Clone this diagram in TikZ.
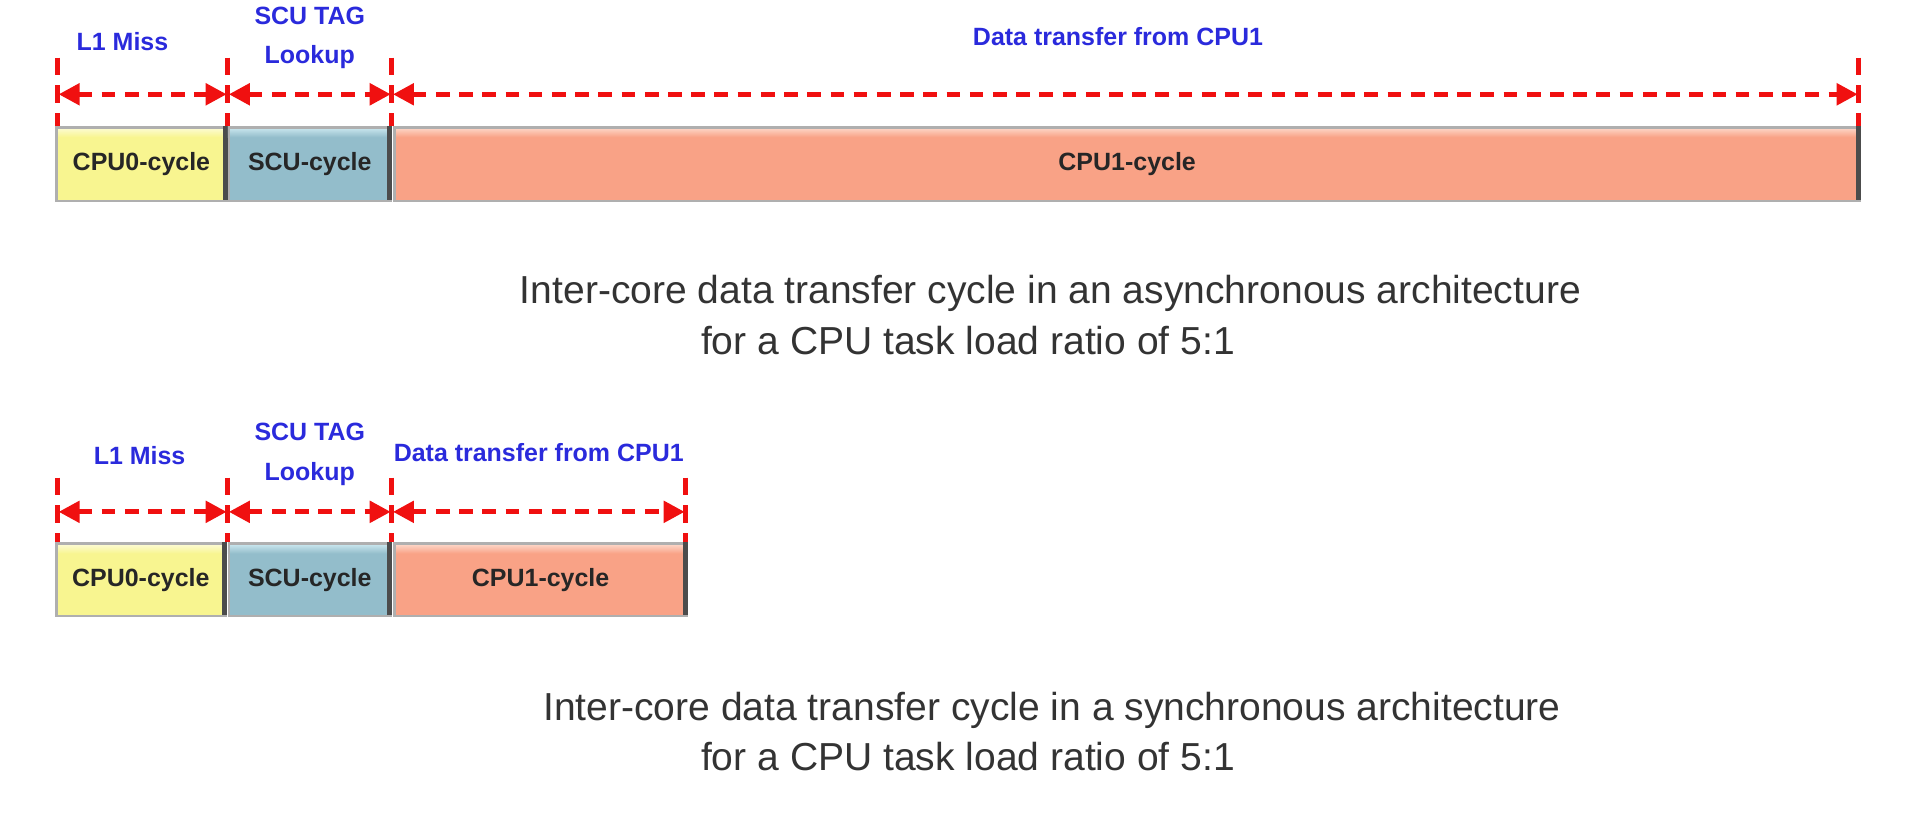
\documentclass[tikz,border=0pt]{standalone}
\usepackage{fontspec}
\setmainfont{Liberation Sans}
\usetikzlibrary{arrows.meta}
\definecolor{cyel}{HTML}{F8F590}
\definecolor{cyelT}{HTML}{FDFCE0}
\definecolor{cscu}{HTML}{93BDCB}
\definecolor{cscuT}{HTML}{D4EEF4}
\definecolor{ccpu}{HTML}{F9A286}
\definecolor{ccpuT}{HTML}{FDE0D4}
\definecolor{cedge}{HTML}{8C8C8C}
\definecolor{lblue}{HTML}{2A2ADC}
\definecolor{dred}{HTML}{F01010}
\tikzset{
  cyclebox/.style={draw=cedge!70, line width=0.7pt, inner sep=0pt, font=\fontsize{7.1pt}{8.5pt}\selectfont\bfseries, text=black!85},
  toplabel/.style={font=\fontsize{7.1pt}{11.3pt}\selectfont\bfseries, text=lblue, align=center, inner sep=0pt},
  vline/.style={dred, line width=1.35pt, dash pattern=on 4.9pt off 3pt},
  span/.style={dred, line width=1.45pt, dash pattern=on 3.9pt off 2.7pt, {Triangle[length=6pt,width=6pt]}-{Triangle[length=6pt,width=6pt]}, shorten <=0.3pt, shorten >=0.3pt},
  caption/.style={font=\fontsize{11.1pt}{13pt}\selectfont, text=black!80, inner sep=0pt, anchor=west},
}
\newcommand{\cyclebar}[6]{% name, x1, x2, ytop, ybot, colour
  \fill[#6] (#2,#4) rectangle (#3,#5);
  \shade[top color=#6T, bottom color=#6] (#2,#4) rectangle (#3,#4+9);
  \node[cyclebox, minimum width={(#3-#2)*0.012245cm}, minimum height={(#5-#4)*0.012245cm}, anchor=north west] (#1) at (#2,#4) {};
  \draw[black!70, line width=1.4pt] (#3,#4) -- (#3,#5);
}
\begin{document}
\begin{tikzpicture}[x=0.012245cm,y=-0.012245cm]
\useasboundingbox (0,0) rectangle (1568,665.6);
% ---------- top diagram ----------
\cyclebar{ay}{45}{184}{103}{163}{cyel}
\cyclebar{as}{186}{318}{103}{163}{cscu}
\cyclebar{ac}{321}{1518}{103}{163}{ccpu}
\node[cyclebox,draw=none] at (ay.center) {CPU0-cycle};
\node[cyclebox,draw=none] at (as.center) {SCU-cycle};
\node[cyclebox,draw=none] at (ac.center) {CPU1-cycle};
\coordinate (at0) at (47,47);  \coordinate (ab0) at (47,103);
\coordinate (at1) at (186,47); \coordinate (ab1) at (186,103);
\coordinate (at2) at (320,47); \coordinate (ab2) at (320,103);
\coordinate (at3) at (1518,47);\coordinate (ab3) at (1518,103);
\foreach \i in {0,1,2,3} \draw[vline] (at\i) -- (ab\i);
\coordinate (aa0) at (47,77); \coordinate (aa1) at (186,77);
\coordinate (aa2) at (320,77); \coordinate (aa3) at (1518,77);
\draw[span] (aa0) -- (aa1);
\draw[span] (aa1) -- (aa2);
\draw[span] (aa2) -- (aa3);
\node[toplabel] (al1) at (100,34) {L1 Miss};
\node[toplabel] (al2) at (253,31) {SCU TAG\\Lookup};
\node[toplabel] (al3) at (913,30) {Data transfer from CPU1};
\node[caption] (acap1) at (424,240) {Inter-core data transfer cycle in an asynchronous architecture};
\node[caption] (acap2) at (572,278) {for a CPU task load ratio of 5:1};
% ---------- bottom diagram ----------
\cyclebar{by}{45}{183}{443}{502}{cyel}
\cyclebar{bs}{186}{318}{443}{502}{cscu}
\cyclebar{bc}{321}{560}{443}{502}{ccpu}
\node[cyclebox,draw=none] at (by.center) {CPU0-cycle};
\node[cyclebox,draw=none] at (bs.center) {SCU-cycle};
\node[cyclebox,draw=none] at (bc.center) {CPU1-cycle};
\coordinate (bt0) at (47,390);  \coordinate (bb0) at (47,443);
\coordinate (bt1) at (186,390); \coordinate (bb1) at (186,443);
\coordinate (bt2) at (320,390); \coordinate (bb2) at (320,443);
\coordinate (bt3) at (560,390); \coordinate (bb3) at (560,443);
\foreach \i in {0,1,2,3} \draw[vline] (bt\i) -- (bb\i);
\coordinate (ba0) at (47,418); \coordinate (ba1) at (186,418);
\coordinate (ba2) at (320,418); \coordinate (ba3) at (560,418);
\draw[span] (ba0) -- (ba1);
\draw[span] (ba1) -- (ba2);
\draw[span] (ba2) -- (ba3);
\node[toplabel] (bl1) at (114,372) {L1 Miss};
\node[toplabel] (bl2) at (253,371) {SCU TAG\\Lookup};
\node[toplabel] (bl3) at (440,370) {Data transfer from CPU1};
\node[caption] (bcap1) at (443,580) {Inter-core data transfer cycle in a synchronous architecture};
\node[caption] (bcap2) at (572,618) {for a CPU task load ratio of 5:1};
\end{tikzpicture}
\end{document}
